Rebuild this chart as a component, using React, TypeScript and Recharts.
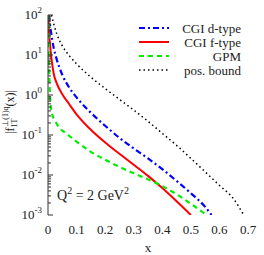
import { LineChart, Line, XAxis, YAxis, Customized } from 'recharts';

// CGI d-type
const dTypeX = [0.003, 0.006, 0.01, 0.02, 0.03, 0.05, 0.075, 0.1, 0.15, 0.2, 0.25, 0.3, 0.35, 0.4, 0.45, 0.5, 0.55, 0.572];
const dTypeY = [100, 65, 40, 15, 8, 3.2, 1.5, 0.87, 0.36, 0.17, 0.085, 0.046, 0.026, 0.014, 0.0071, 0.0035, 0.0016, 0.001];

// CGI f-type
const fTypeX = [0.001, 0.004, 0.007, 0.01, 0.02, 0.03, 0.05, 0.075, 0.1, 0.15, 0.2, 0.25, 0.3, 0.35, 0.4, 0.45, 0.5];
const fTypeY = [100, 35, 19, 11, 3.4, 2.0, 1.05, 0.58, 0.33, 0.135, 0.065, 0.034, 0.018, 0.0095, 0.0047, 0.0022, 0.001];

// GPM
const gpmX = [0.0005, 0.002, 0.004, 0.007, 0.01, 0.015, 0.023, 0.04, 0.06, 0.1, 0.15, 0.2, 0.25, 0.3, 0.35, 0.4, 0.45, 0.5, 0.555];
const gpmY = [100, 20, 4, 1.0, 0.5, 0.32, 0.24, 0.15, 0.115, 0.068, 0.038, 0.024, 0.016, 0.011, 0.0078, 0.0053, 0.0033, 0.0019, 0.001];

// positivity bound
const boundX = [0.012, 0.02, 0.03, 0.05, 0.075, 0.1, 0.15, 0.2, 0.25, 0.3, 0.35, 0.4, 0.45, 0.5, 0.55, 0.6, 0.65, 0.685];
const boundY = [100, 60, 35, 17, 9.5, 6, 2.8, 1.45, 0.78, 0.42, 0.22, 0.11, 0.055, 0.026, 0.012, 0.0055, 0.0025, 0.001];

const xMajor = [0, 0.1, 0.2, 0.3, 0.4, 0.5, 0.6, 0.7];
const yDecades = [-3, -2, -1, 0, 1, 2];

const xTicks: number[] = [];
for (let i = 0; i <= 35; i++) xTicks.push(Number((i * 0.02).toFixed(2)));

const yTicks: number[] = [];
yDecades.forEach((e) => {
  for (let m = 1; m <= 9; m++) {
    if (e === 2 && m > 1) break;
    yTicks.push(Number((m * Math.pow(10, e)).toPrecision(3)));
  }
});

const toData = (xs: number[], ys: number[]) => xs.map((x, i) => ({ x, y: ys[i] }));

const series = [
  { name: 'CGI d-type', color: '#0000ff', dash: '6 3 2 3', width: 2.2, data: toData(dTypeX, dTypeY) },
  { name: 'CGI f-type', color: '#ff0000', dash: undefined, width: 2, data: toData(fTypeX, fTypeY) },
  { name: 'GPM', color: '#00ee00', dash: '5 4', width: 2.2, data: toData(gpmX, gpmY) },
  { name: 'pos. bound', color: '#000000', dash: '1.5 3', width: 1.5, data: toData(boundX, boundY) },
];

const FONT = '"Liberation Serif", "Times New Roman", serif';
const AXIS = '#333';

const isMajorX = (v: number) => xMajor.some((m) => Math.abs(m - v) < 1e-6);
const isDecade = (v: number) => Math.abs(Math.log10(v) - Math.round(Math.log10(v))) < 1e-6;

// tick marks only, drawn inside the frame
const XTick = (props: any) => {
  const { x, y, payload, flip } = props;
  const len = isMajorX(payload.value) ? 5 : 3;
  return <line x1={x} x2={x} y1={y} y2={flip ? y + len : y - len} stroke={AXIS} />;
};

const YTick = (props: any) => {
  const { x, y, payload, flip } = props;
  const v = payload.value;
  const len = isDecade(v) ? 5 : 3;
  return (
    <g>
      <line x1={x} x2={flip ? x - len : x + len} y1={y} y2={y} stroke={AXIS} />
      {!flip && isDecade(v) && (
        <text x={x - 6} y={y + 4} textAnchor="end" fontFamily={FONT} fontSize={13} fill="#222" stroke="none">
          10
          <tspan dy={-6} fontSize={9}>
            {String(Math.round(Math.log10(v)))}
          </tspan>
        </text>
      )}
    </g>
  );
};

const Overlay = () => (
  <g fontFamily={FONT} fill="#222">
    {series.map((s, i) => (
      <g key={s.name}>
        <line
          x1={139}
          x2={169}
          y1={28 + 14 * i}
          y2={28 + 14 * i}
          stroke={s.color}
          strokeWidth={s.width}
          strokeDasharray={s.dash}
        />
        <text x={241} y={32.5 + 14 * i} textAnchor="end" fontSize={13}>
          {s.name}
        </text>
      </g>
    ))}
    <text x={57} y={200} fontSize={14}>
      Q<tspan dy={-6} fontSize={10}>2</tspan>
      <tspan dy={6}> = 2 GeV</tspan>
      <tspan dy={-6} fontSize={10}>2</tspan>
    </text>
    <text x={148} y={252} textAnchor="middle" fontSize={13}>
      x
    </text>
    <text transform="translate(14,112) rotate(-90)" textAnchor="middle" fontSize={12}>
      |f
      <tspan dy={3} fontSize={8}>1T</tspan>
      <tspan dx={-8} dy={-9} fontSize={8}>⊥(1)q</tspan>
      <tspan dy={6} fontSize={12}>(x)|</tspan>
    </text>
  </g>
);

export default function App() {
  return (
    <div style={{ position: 'absolute', left: 0, top: 0 }}>
      <LineChart width={264} height={255} margin={{ top: 15, right: 16, bottom: 0, left: 0 }}>
        <XAxis
          xAxisId="bottom"
          dataKey="x"
          type="number"
          domain={[0, 0.7]}
          ticks={xTicks}
          interval={0}
          allowDataOverflow
          height={0}
          tickSize={0}
          tickMargin={0}
          tickLine={false}
          stroke={AXIS}
          tick={<XTick />}
        />
        <XAxis
          xAxisId="labels"
          dataKey="x"
          type="number"
          domain={[0, 0.7]}
          ticks={xMajor}
          interval={0}
          allowDataOverflow
          height={40}
          tickSize={0}
          tickMargin={10}
          tickLine={false}
          axisLine={false}
          tick={{ fill: '#222', fontFamily: FONT, fontSize: 13 }}
          tickFormatter={(v: number) => (v === 0 ? '0' : v.toFixed(1))}
        />
        <XAxis
          xAxisId="top"
          orientation="top"
          dataKey="x"
          type="number"
          domain={[0, 0.7]}
          ticks={xTicks}
          interval={0}
          allowDataOverflow
          height={0}
          tickSize={0}
          tickMargin={0}
          tickLine={false}
          stroke={AXIS}
          tick={<XTick flip />}
        />
        <YAxis
          yAxisId="left"
          type="number"
          scale="log"
          domain={[0.001, 100]}
          ticks={yTicks}
          interval={0}
          allowDataOverflow
          width={48}
          tickSize={0}
          tickMargin={0}
          tickLine={false}
          stroke={AXIS}
          tick={<YTick />}
        />
        <YAxis
          yAxisId="right"
          orientation="right"
          type="number"
          scale="log"
          domain={[0.001, 100]}
          ticks={yTicks}
          interval={0}
          allowDataOverflow
          width={0}
          tickSize={0}
          tickMargin={0}
          tickLine={false}
          stroke={AXIS}
          tick={<YTick flip />}
        />
        {series.map((s) => (
          <Line
            key={s.name}
            xAxisId="bottom"
            yAxisId="left"
            data={s.data}
            dataKey="y"
            name={s.name}
            type="monotone"
            stroke={s.color}
            strokeWidth={s.width}
            strokeDasharray={s.dash}
            dot={false}
            isAnimationActive={false}
          />
        ))}
        <Customized component={<Overlay />} />
      </LineChart>
    </div>
  );
}
